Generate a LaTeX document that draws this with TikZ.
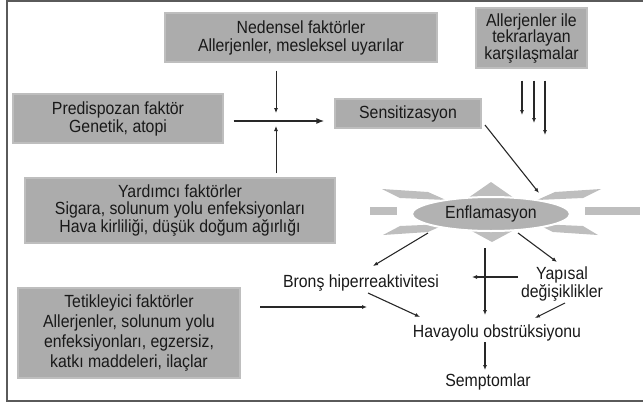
\documentclass[tikz,border=0pt]{standalone}
\usepackage{fontspec}
\setmainfont{Liberation Sans}[FakeStretch=0.9]
\usetikzlibrary{arrows.meta,shapes.geometric}
\definecolor{boxgray}{RGB}{172,172,172}
\definecolor{boxedge}{RGB}{190,190,190}
\definecolor{spikegray}{RGB}{190,190,190}
\definecolor{ellgray}{RGB}{178,178,178}
\definecolor{linec}{RGB}{40,40,40}
\definecolor{txt}{RGB}{25,25,25}
\definecolor{framec}{RGB}{90,90,90}
\begin{document}
\begin{tikzpicture}[x=1pt,y=-1pt,
  every node/.style={text=txt},
  fbox/.style={fill=boxgray, draw=boxedge, line width=1.2pt, inner sep=0pt, align=center,
    font=\fontsize{17.6}{18}\selectfont},
  plain/.style={inner sep=0pt, align=center, font=\fontsize{17.6}{18}\selectfont},
  arr/.style={draw=linec, line width=1.1pt, -{Latex[length=5pt,width=4pt]}},
  spike/.style={fill=spikegray, draw=none}]
\useasboundingbox (0,0) rectangle (643,405);
% frame
\draw[framec, line width=1.3pt] (643,1) -- (7,1) -- (7,401) -- (643,401);

% boxes
\node[fbox, minimum width=272pt, minimum height=49pt] (ned) at (301,37.5)
  {Nedensel faktörler\\Allerjenler, mesleksel uyarılar};
\node[fbox, minimum width=111pt, minimum height=60pt, font=\fontsize{17.6}{16.5}\selectfont] (ale) at (531.5,38)
  {Allerjenler ile\\tekrarlayan\\karşılaşmalar};
\node[fbox, minimum width=210pt, minimum height=49pt] (pre) at (118,118.5)
  {Predispozan faktör\\Genetik, atopi};
\node[fbox, minimum width=146pt, minimum height=29pt] (sen) at (408,113.5)
  {Sensitizasyon};
\node[fbox, minimum width=310pt, minimum height=65pt, font=\fontsize{17.6}{16.5}\selectfont] (yar) at (180,210.5)
  {Yardımcı faktörler\\Sigara, solunum yolu enfeksiyonları\\Hava kirliliği, düşük doğum ağırlığı};
\node[fbox, minimum width=222pt, minimum height=90pt, font=\fontsize{17.6}{20}\selectfont] (tet) at (129,333)
  {Tetikleyici faktörler\\Allerjenler, solunum yolu\\enfeksiyonları, egzersiz,\\katkı maddeleri, ilaçlar};

% star spikes
\fill[spike] (468,198) -- (491,182) -- (514,198) -- cycle;
\fill[spike] (468,229) -- (492,242) -- (516,229) -- cycle;
\fill[spike] (382,189) -- (428,192) -- (446,200) -- (400,198) -- cycle;
\fill[spike] (383,235) -- (428,232) -- (446,224) -- (400,226) -- cycle;
\fill[spike] (601,189) -- (555,192) -- (537,200) -- (583,198) -- cycle;
\fill[spike] (598,235) -- (553,232) -- (537,224) -- (583,226) -- cycle;
\fill[spike] (370,207) rectangle (397,215);
\fill[spike] (585,207) rectangle (640,215);

\node[ellipse, fill=ellgray, draw=white, line width=2pt, minimum width=158pt, minimum height=34pt,
  inner sep=0pt, font=\fontsize{17.6}{18}\selectfont] (enf) at (491,214) {Enflamasyon};

% plain labels
\node[plain] (bro) at (361,283) {Bronş hiperreaktivitesi};
\node[plain] (yap) at (562,284) {Yapısal\\değişiklikler};
\node[plain] (hav) at (497,333) {Havayolu obstrüksiyonu};
\node[plain] (sem) at (488,382) {Semptomlar};

% coordinates for arrow ends
\coordinate (c1) at (276,113);
\coordinate (c2) at (276,126);
\coordinate (t1) at (522,115);
\coordinate (t2) at (534,123);
\coordinate (t3) at (545,135);
\coordinate (s0) at (485,125);
\coordinate (s1) at (539,193);
\coordinate (e1) at (428,233);
\coordinate (b1) at (373,266);
\coordinate (e2) at (518,233);
\coordinate (y1) at (557,262);
\coordinate (e3) at (485,248);
\coordinate (h1) at (485,315);
\coordinate (y2) at (518,277);
\coordinate (x2) at (472,277);
\coordinate (b2) at (368,293);
\coordinate (h2) at (420,317);
\coordinate (y3) at (565,303);
\coordinate (h3) at (535,318);
\coordinate (k0) at (260,307);
\coordinate (k1) at (367,307);
\coordinate (h4) at (485,342);
\coordinate (m1) at (485,370);

% connectors
\draw[arr, line width=0.8pt, shorten <=8pt] (ned.south -| c1) -- (c1);
\draw[arr, line width=0.8pt, shorten <=4pt] (yar.north -| c2) -- (c2);
\draw[arr, line width=2.6pt, -{Latex[length=8pt,width=6pt]}, shorten <=10pt, shorten >=10pt]
  (pre.east |- 0,121) -- (sen.west |- 0,121);
\draw[arr, shorten <=12pt] (ale.south -| t1) -- (t1);
\draw[arr, shorten <=12pt] (ale.south -| t2) -- (t2);
\draw[arr, shorten <=12pt] (ale.south -| t3) -- (t3);
\draw[arr] (s0) -- (s1);
\draw[arr] (e1) -- (b1);
\draw[arr] (e2) -- (y1);
\draw[arr] (e3) -- (h1);
\draw[arr] (y2) -- (x2);
\draw[arr] (b2) -- (h2);
\draw[arr] (y3) -- (h3);
\draw[arr] (k0) -- (k1);
\draw[arr] (h4) -- (m1);
\end{tikzpicture}
\end{document}
